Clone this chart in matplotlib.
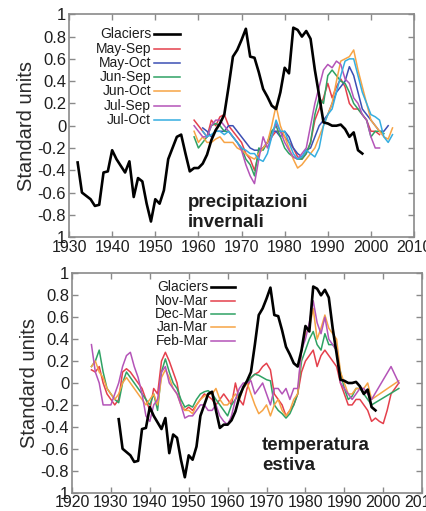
import numpy as np
import matplotlib
matplotlib.use("Agg")
import matplotlib.pyplot as plt

plt.rcParams["font.family"] = ["Liberation Sans", "DejaVu Sans"]

# glacier index (same in both panels)
glacier_years = np.arange(1932, 1999)
glaciers = [-0.33, -0.60, -0.63, -0.66, -0.72, -0.71, -0.42, -0.41,
            -0.22, -0.30, -0.36, -0.42, -0.32, -0.64, -0.47, -0.50, -0.70, -0.86,
            -0.66, -0.70, -0.58, -0.30, -0.20, -0.10, -0.08, -0.25, -0.41, -0.38,
            -0.38, -0.34, -0.26, -0.13, -0.04, 0.02, 0.10, 0.35, 0.62, 0.68,
            0.77, 0.87, 0.62, 0.61, 0.48, 0.33, 0.26, 0.18, 0.15, 0.30,
            0.52, 0.47, 0.88, 0.86, 0.80, 0.85, 0.78, 0.50, 0.27, 0.03,
            0.02, 0.00, 0.00, 0.01, -0.03, -0.10, -0.06, -0.22, -0.25]

# winter precipitation (top panel)
may_sep = [0.05, 0.00, -0.05, -0.10, 0.05, 0.00, 0.08, 0.10, 0.00, -0.05, -0.10,
           -0.15, -0.25, -0.30, -0.40, -0.25, -0.20, -0.15, -0.10, -0.05, -0.05,
           -0.10, -0.15, -0.20, -0.28, -0.30, -0.25, -0.15, 0.05, 0.15, 0.25,
           0.38, 0.25, 0.35, 0.42, 0.35, 0.20, 0.15, 0.15, 0.10, 0.05,
           -0.05, -0.05, -0.08]
may_oct = [-0.02, -0.05, -0.10, -0.05, -0.05, -0.05, 0.00, 0.00, -0.05,
           -0.10, -0.15, -0.20, -0.22, -0.22, -0.20, -0.15, -0.05, -0.05, -0.10,
           -0.05, -0.10, -0.20, -0.25, -0.28, -0.22, -0.20, -0.10, 0.00, 0.05,
           0.10, 0.20, 0.30, 0.35, 0.40, 0.53, 0.45, 0.30, 0.15, 0.10,
           0.05, 0.00, -0.05, -0.05, 0.00]
jun_sep = [-0.10, -0.20, -0.15, -0.10, 0.00, 0.02, 0.00, -0.05, -0.05, -0.10, -0.15,
           -0.20, -0.30, -0.35, -0.45, -0.20, -0.22, -0.15, -0.05, 0.00, -0.10,
           -0.20, -0.25, -0.28, -0.30, -0.30, -0.25, -0.15, 0.10, 0.25, 0.20,
           0.45, 0.50, 0.45, 0.40, 0.38, 0.30, 0.20, 0.15, 0.10, 0.05,
           -0.10, -0.05, -0.05, -0.07]
jun_oct = [-0.05, -0.15, -0.10, -0.15, -0.15, -0.12, -0.10, -0.15, -0.15, -0.15, -0.20,
           -0.22, -0.25, -0.28, -0.30, -0.25, -0.20, -0.15, 0.00, 0.18, 0.00,
           -0.10, -0.20, -0.30, -0.38, -0.35, -0.30, -0.25, -0.20, -0.10, 0.00,
           0.10, 0.20, 0.40, 0.58, 0.60, 0.62, 0.68, 0.50, 0.35, 0.20,
           0.05, 0.00, -0.05, -0.10, -0.12, -0.02]
jul_sep = [0.00, -0.05, -0.10, -0.10, 0.00, 0.05, 0.05, 0.00, -0.05, -0.10, -0.15,
           -0.22, -0.35, -0.45, -0.52, -0.30, -0.10, -0.20, -0.10, 0.02, -0.05,
           -0.15, -0.22, -0.28, -0.30, -0.25, -0.20, 0.00, 0.20, 0.35, 0.50,
           0.55, 0.52, 0.58, 0.55, 0.42, 0.38, 0.25, 0.20, 0.10, 0.05,
           -0.10, -0.20, -0.20]
jul_oct = [-0.05, -0.10, -0.08, -0.05, -0.05, -0.08, -0.05, -0.10, -0.15,
           -0.20, -0.22, -0.25, -0.25, -0.30, -0.32, -0.25, -0.10, 0.05, -0.05,
           -0.05, -0.15, -0.25, -0.30, -0.28, -0.22, -0.25, -0.28, -0.20, 0.00,
           0.10, 0.15, 0.30, 0.45, 0.58, 0.60, 0.60, 0.45, 0.30, 0.20,
           0.10, 0.08, 0.05, -0.10, -0.15, -0.08]
precip_series = [("May-Sep", 1959, may_sep, "#e4404c"),
                 ("May-Oct", 1961, may_oct, "#3c4fb4"),
                 ("Jun-Sep", 1959, jun_sep, "#2fa264"),
                 ("Jun-Oct", 1959, jun_oct, "#f7a445"),
                 ("Jul-Sep", 1959, jul_sep, "#b454b8"),
                 ("Jul-Oct", 1961, jul_oct, "#35aee0")]

# summer temperature (bottom panel), 1925-1997 + tail points
years_w = list(range(1925, 1998))
nov_mar = [0.12, 0.10, 0.15, 0.00, -0.10,
           -0.15, -0.20, -0.15, 0.10, 0.13, 0.10, 0.05, 0.00, -0.05, -0.15,
           -0.25, -0.05, -0.10, 0.20, 0.28, 0.20, 0.10, 0.00, -0.20, -0.25,
           -0.22, -0.25, -0.20, -0.15, -0.10, -0.12, -0.15, -0.20, -0.15, -0.10,
           -0.15, -0.20, 0.00, -0.15, -0.20, -0.05, 0.05, 0.08, 0.10, 0.15,
           0.18, 0.12, -0.10, -0.15, -0.20, -0.30, -0.25, -0.20, -0.10, 0.10,
           0.20, 0.25, 0.30, 0.15, 0.25, 0.30, 0.25, 0.20, 0.15, 0.00,
           -0.10, -0.20, -0.20, -0.15, -0.15, -0.20, -0.25, -0.35]
nov_mar_tail = ([1998, 1999, 2000, 2001, 2002, 2003, 2004],
                [-0.32, -0.35, -0.37, -0.25, -0.10, -0.05, 0.00])
dec_mar = [0.15, 0.20, 0.30, 0.10, -0.05,
           -0.10, -0.15, -0.18, 0.00, 0.10, 0.05, 0.00, -0.05, -0.10, -0.15,
           -0.20, -0.10, -0.25, 0.10, 0.22, 0.10, 0.00, -0.05, -0.15, -0.22,
           -0.20, -0.22, -0.15, -0.10, -0.08, -0.07, -0.10, -0.15, -0.20, -0.25,
           -0.30, -0.20, -0.15, -0.10, -0.05, 0.00, 0.05, 0.08, 0.07, 0.05,
           0.03, 0.02, -0.20, -0.25, -0.28, -0.32, -0.28, -0.20, -0.10, 0.20,
           0.30, 0.40, 0.47, 0.35, 0.30, 0.45, 0.35, 0.35, 0.30, 0.10,
           -0.05, -0.15, -0.12, -0.05, -0.05, -0.10, -0.15, -0.20]
dec_mar_tail = ([2004], [-0.05])
jan_mar = [0.15, 0.20, 0.10, 0.05, -0.05,
           -0.10, -0.15, -0.10, 0.00, 0.05, 0.00, -0.05, -0.10, -0.15, -0.20,
           -0.15, -0.10, -0.20, 0.05, 0.12, 0.05, -0.05, -0.10, -0.20, -0.25,
           -0.25, -0.28, -0.20, -0.15, -0.12, -0.10, -0.10, -0.05, -0.15, -0.20,
           -0.20, -0.15, -0.10, -0.15, -0.05, 0.00, -0.10, -0.20, -0.28, -0.25,
           -0.20, -0.30, -0.20, -0.15, -0.25, -0.30, -0.25, -0.15, -0.10, 0.30,
           0.45, 0.50, 0.68, 0.40, 0.50, 0.62, 0.50, 0.45, 0.40, 0.10,
           0.00, -0.10, -0.10, -0.05, -0.05, -0.05, 0.00, -0.15]
jan_mar_tail = ([2004], [0.02])
feb_mar = [0.35, 0.10, 0.00, -0.20, -0.20,
           -0.20, -0.10, 0.00, 0.15, 0.25, 0.28, 0.15, 0.05, -0.10, -0.30,
           -0.35, -0.20, -0.15, 0.10, 0.15, 0.00, -0.05, -0.10, -0.20, -0.32,
           -0.30, -0.30, -0.25, -0.20, -0.20, -0.25, -0.25, -0.20, -0.30, -0.35,
           -0.38, -0.30, -0.15, -0.05, 0.00, 0.00, 0.02, -0.10, -0.05, 0.00,
           -0.10, -0.20, -0.05, -0.05, -0.10, -0.05, -0.15, -0.05, -0.05, 0.30,
           0.40, 0.55, 0.75, 0.55, 0.45, 0.60, 0.40, 0.35, 0.30, 0.00,
           -0.05, -0.10, -0.15, -0.10, -0.05, -0.05, -0.10, -0.15]
feb_mar_tail = ([2002, 2004], [0.15, 0.00])
temp_series = [("Nov-Mar", nov_mar, nov_mar_tail, "#e4404c"),
               ("Dec-Mar", dec_mar, dec_mar_tail, "#2fa264"),
               ("Jan-Mar", jan_mar, jan_mar_tail, "#f7a445"),
               ("Feb-Mar", feb_mar, feb_mar_tail, "#b454b8")]

y_ticks = [-1, -0.8, -0.6, -0.4, -0.2, 0, 0.2, 0.4, 0.6, 0.8, 1]
y_labels = ["1", "-0.8", "-0.6", "-0.4", "-0.2", "0", "0.2", "0.4", "0.6", "0.8", "1"]

fig = plt.figure(figsize=(4.26, 5.11), dpi=100)
ax1 = fig.add_axes([0.162, 0.536, 0.81, 0.436])
ax2 = fig.add_axes([0.169, 0.036, 0.822, 0.429])

frame_col = "#8a8a8a"
text_col = "#1e1e1e"
glacier_lw = 1.9
series_lw = 1.1


def style(ax, x0, x1):
    ax.set_xlim(x0, x1)
    ax.set_ylim(-1, 1)
    ax.set_xticks(range(x0, x1 + 1, 10))
    ax.set_yticks(y_ticks)
    ax.set_yticklabels(y_labels)
    ax.tick_params(direction="in", length=4, width=1, color=frame_col,
                   top=True, right=True, labelsize=12, labelcolor=text_col, pad=2)
    ax.tick_params(axis="x", labelsize=11.5, pad=2)
    for s in ax.spines.values():
        s.set_color(frame_col)
        s.set_linewidth(1.2)
    ax.set_ylabel("Standard units", fontsize=14.5, color="#2a2a2a", labelpad=1)


def legend(ax, entries, xt, xl0, xl1, ytop, dy):
    for i, (lab, col, lw) in enumerate(entries):
        y = ytop - i * dy
        ax.text(xt, y, lab, transform=ax.transAxes, ha="right", va="center",
                fontsize=10, color=text_col)
        ax.plot([xl0, xl1], [y, y], transform=ax.transAxes, color=col, lw=lw,
                clip_on=False)


# top panel
for name, start, vals, col in precip_series:
    ax1.plot(np.arange(start, start + len(vals)), vals, color=col, lw=series_lw)
ax1.plot(glacier_years, glaciers, color="black", lw=glacier_lw)
style(ax1, 1930, 2010)
legend(ax1, [("Glaciers", "black", glacier_lw)] + [(n, c, series_lw) for n, _, _, c in precip_series],
       0.238, 0.245, 0.322, 0.91, 0.064)
ax1.text(0.345, 0.157, "precipitazioni", transform=ax1.transAxes, fontsize=13.5,
         fontweight="bold", color=text_col, va="center")
ax1.text(0.345, 0.067, "invernali", transform=ax1.transAxes, fontsize=13.5,
         fontweight="bold", color=text_col, va="center")

# bottom panel
for name, vals, tail, col in temp_series:
    ax2.plot(years_w + tail[0], vals + tail[1], color=col, lw=series_lw)
ax2.plot(glacier_years, glaciers, color="black", lw=glacier_lw)
style(ax2, 1920, 2010)
legend(ax2, [("Glaciers", "black", glacier_lw)] + [(n, c, series_lw) for n, _, _, c in temp_series],
       0.389, 0.396, 0.466, 0.937, 0.061)
ax2.text(0.543, 0.213, "temperatura", transform=ax2.transAxes, fontsize=13.5,
         fontweight="bold", color=text_col, va="center")
ax2.text(0.543, 0.122, "estiva", transform=ax2.transAxes, fontsize=13.5,
         fontweight="bold", color=text_col, va="center")

fig.savefig("out.png", dpi=100)
